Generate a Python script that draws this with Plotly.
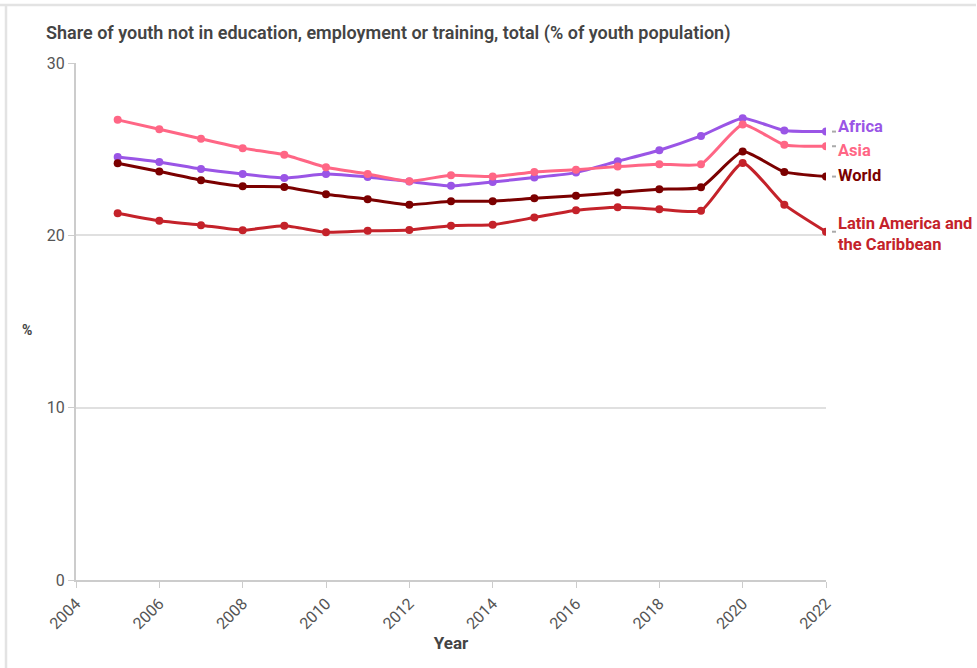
import plotly.graph_objects as go

years = list(range(2005, 2023))
africa = [24.55, 24.26, 23.85, 23.56, 23.33, 23.56, 23.39, 23.12, 22.87, 23.1, 23.35, 23.64, 24.3, 24.94, 25.77, 26.8, 26.08, 26.02]
asia = [26.7, 26.16, 25.6, 25.06, 24.68, 23.95, 23.56, 23.14, 23.49, 23.41, 23.68, 23.81, 23.99, 24.13, 24.13, 26.43, 25.25, 25.17]
world = [24.18, 23.7, 23.2, 22.85, 22.81, 22.39, 22.1, 21.78, 21.98, 21.98, 22.15, 22.29, 22.48, 22.68, 22.79, 24.86, 23.68, 23.41]
latam = [21.28, 20.84, 20.59, 20.3, 20.55, 20.18, 20.26, 20.31, 20.56, 20.62, 21.03, 21.46, 21.63, 21.51, 21.43, 24.2, 21.78, 20.21]

names = ["Africa", "Asia", "World", "Latin America and<br>the Caribbean"]
colors = ["#9a55e6", "#ff6685", "#7b0000", "#c4222a"]
values = [africa, asia, world, latam]
label_y = [26.3, 24.9, 23.45, 20.1]

x_ticks = list(range(2004, 2023, 2))
y_ticks = [0, 10, 20, 30]

W, H = 977, 668
L, R, T, B = 76, 151, 63, 88
pw, ph = W - L - R, H - T - B

fig = go.Figure()
for name, vals, col in zip(names, values, colors):
    fig.add_trace(go.Scatter(
        x=years, y=vals, mode="lines+markers", name=name.replace("<br>", " "),
        line=dict(color=col, width=3, shape="spline", smoothing=0.5),
        marker=dict(color=col, size=8),
        showlegend=False,
    ))

for name, vals, col, ly in zip(names, values, colors, label_y):
    fig.add_annotation(
        x=2022, y=ly, xref="x", yref="y", text="<b>" + name + "</b>",
        showarrow=False, xanchor="left", yanchor="middle",
        xshift=10, align="left",
        font=dict(family="Roboto", size=16.5, color=col),
    )
    # small grey connector dash between last point and label
    fig.add_shape(type="line", xref="paper", yref="y",
                  x0=(826 + 6 - L) / pw, x1=(826 + 10 - L) / pw, y0=vals[-1], y1=vals[-1],
                  line=dict(color="#aaaaaa", width=2))

fig.add_annotation(
    x=(27 - L) / pw, y=(H - B - 330) / ph, xref="paper", yref="paper", text="<b>%</b>",
    showarrow=False, xanchor="center", yanchor="middle",
    font=dict(family="Roboto", size=14, color="#444"),
)

# outer frame lines (top and left)
fig.add_shape(type="line", xref="paper", yref="paper",
              x0=(0 - L) / pw, x1=(976 - L) / pw, y0=(H - B - 5) / ph, y1=(H - B - 5) / ph,
              line=dict(color="#e3e3e3", width=2.5))
fig.add_shape(type="line", xref="paper", yref="paper",
              x0=(6 - L) / pw, x1=(6 - L) / pw, y0=(H - B - 5) / ph, y1=(H - B - 668) / ph,
              line=dict(color="#e3e3e3", width=2.5))

fig.update_layout(
    width=W, height=H,
    margin=dict(l=L, r=R, t=T, b=B),
    paper_bgcolor="white", plot_bgcolor="white",
    font=dict(family="Roboto", color="#555"),
    title=dict(text="Share of youth not in education, employment or training, total (% of youth population)",
               x=46 / W, xanchor="left", y=1 - 33 / H, yanchor="middle",
               font=dict(family="Roboto", size=18, color="#444", weight=600)),
    xaxis=dict(range=[2004, 2022], tickvals=x_ticks, ticktext=[str(v) for v in x_ticks],
               tickangle=-45, ticks="outside", ticklen=6, tickcolor="#ccc",
               showgrid=False, showline=True, linecolor="#ccc", linewidth=2,
               tickfont=dict(size=16, color="#555"),
               title=dict(text="<b>Year</b>", font=dict(size=17, color="#444"), standoff=4)),
    yaxis=dict(range=[0, 30], tickvals=y_ticks, ticks="outside", ticklen=6, tickcolor="#ccc",
               showgrid=True, gridcolor="#e0e0e0", gridwidth=2, zeroline=True,
               zerolinecolor="#ccc", zerolinewidth=2,
               showline=True, linecolor="#ccc", linewidth=2,
               tickfont=dict(size=16, color="#555")),
)

fig.write_html("out.html", config={"displayModeBar": False},
               post_script="document.body.style.margin='0';")
